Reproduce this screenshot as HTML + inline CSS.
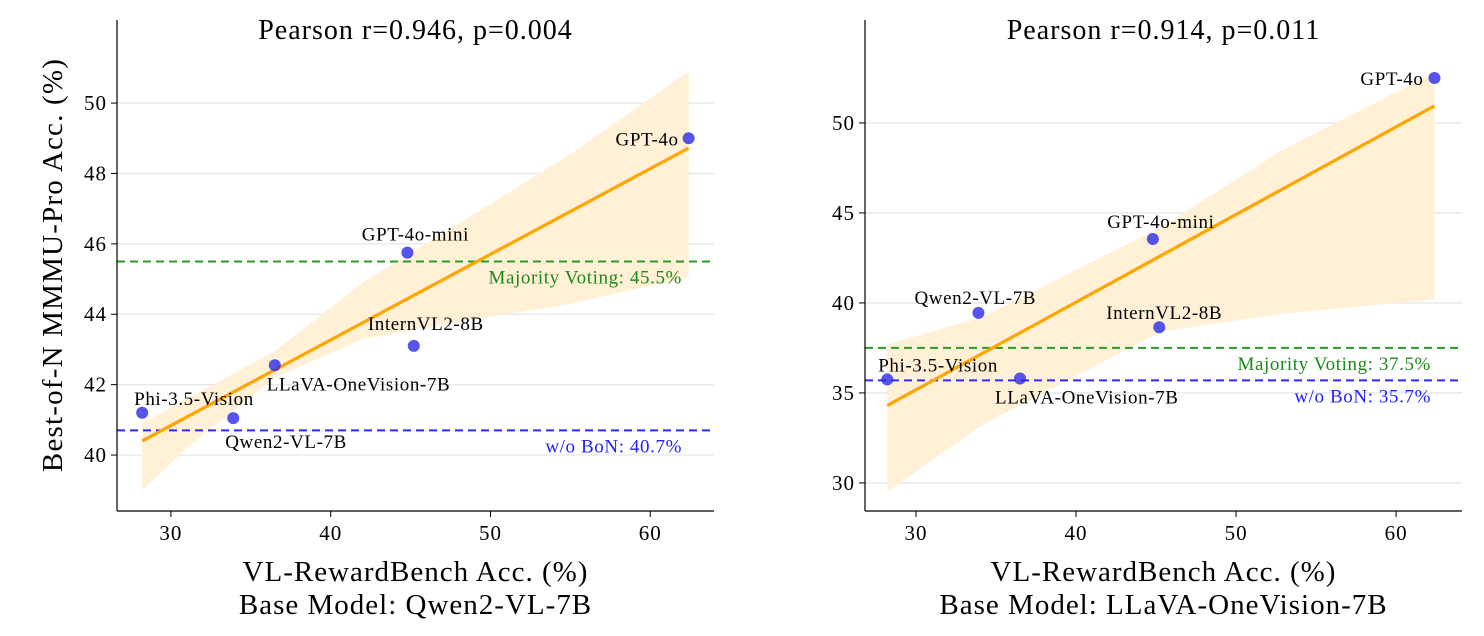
<!DOCTYPE html>
<html><head><meta charset="utf-8"><style>
body{margin:0;background:#fff}
svg{display:block;font-family:"Liberation Serif",serif}
</style></head><body>
<svg id="c" width="1484" height="636"></svg>
<script>
const models=["Phi-3.5-Vision","Qwen2-VL-7B","LLaVA-OneVision-7B","InternVL2-8B","GPT-4o-mini","GPT-4o"];
const xVals=[28.2,33.9,36.5,45.2,44.8,62.4];
const yLeft=[41.2,41.05,42.55,43.1,45.75,49.0];
const yRight=[35.75,39.45,35.8,38.65,43.55,52.5];
const lineLeft=[[28.2,40.4],[62.4,48.72]];
const lineRight=[[28.2,34.3],[62.4,50.95]];
const bandXLeft=[28.2,31,36.5,42,48.3,55,62.4];
const bandUpLeft=[40.9,41.6,42.95,44.9,46.65,48.55,50.9];
const bandLoLeft=[39.0,40.2,42.2,43.3,43.8,44.3,45.05];
const bandXRight=[28.2,34.1,45.3,52.9,62.4];
const bandUpRight=[37.7,39.2,44.2,48.5,52.8];
const bandLoRight=[29.5,33.2,38.4,39.4,40.2];
const xTicks=[30,40,50,60];
const yTicksLeft=[40,42,44,46,48,50];
const yTicksRight=[30,35,40,45,50];
const majLeft=45.5, baseLeft=40.7, majRight=37.5, baseRight=35.7;

const svg=document.getElementById('c');
const NS='http://www.w3.org/2000/svg';
function mk(t,a,p){const e=document.createElementNS(NS,t);for(const k in a)e.setAttribute(k,a[k]);(p||svg).appendChild(e);return e;}

const offL=[[-8,-8,'start'],[-8,30,'start'],[-8,25,'start'],[12,-16,'middle'],[8,-12,'middle'],[-10,7,'end']];
const offR=[[-9,-8,'start'],[-64,-9,'start'],[-25,25,'start'],[-53,-8,'start'],[8,-11,'middle'],[-11,7,'end']];

function panel(o){
  const X=v=>o.x0+(v-o.xmin)/(o.xmax-o.xmin)*(o.x1-o.x0);
  const Y=v=>o.yb-(v-o.ymin)/(o.ymax-o.ymin)*(o.yb-o.yt);
  const g=mk('g',{});
  
  
  o.yticks.forEach(t=>{
    const l=mk('line',{x1:o.x0,x2:o.x1,y1:Y(t),y2:Y(t),stroke:'#e6e6e6','stroke-width':1.3},g);
    
    mk('line',{x1:o.x0-6,x2:o.x0,y1:Y(t),y2:Y(t),stroke:'#000','stroke-width':1},g);
    const tx=mk('text',{x:o.x0-10,y:Y(t)+7,'text-anchor':'end','font-size':21,'letter-spacing':1},g);tx.textContent=t;
    
  });
  xTicks.forEach(t=>{
    mk('line',{x1:X(t),x2:X(t),y1:o.yb,y2:o.yb+6,stroke:'#000','stroke-width':1},g);
    const tx=mk('text',{x:X(t),y:o.yb+29,'text-anchor':'middle','font-size':21,'letter-spacing':1},g);tx.textContent=t;
    
  });
  let d='';
  o.bx.forEach((x,i)=>{d+=(i?'L':'M')+X(x)+','+Y(o.bu[i]);});
  for(let i=o.bx.length-1;i>=0;i--)d+='L'+X(o.bx[i])+','+Y(o.bl[i]);
  const band=mk('path',{d:d+'Z',fill:'#fff0d6'},g);
  
  const h1=mk('line',{x1:o.x0,x2:o.x1,y1:Y(o.maj),y2:Y(o.maj),stroke:'#2a9a2a','stroke-width':2,'stroke-dasharray':'8,5'},g);
  
  const h2=mk('line',{x1:o.x0,x2:o.x1,y1:Y(o.base),y2:Y(o.base),stroke:'#2a2aff','stroke-width':2,'stroke-dasharray':'8,5'},g);
  
  const t1=mk('text',{x:o.labR,y:Y(o.maj)+22,'text-anchor':'end','font-size':19,'letter-spacing':0.6,fill:'#1a8a1a'},g);
  t1.textContent='Majority Voting: '+o.maj+'%';
  
  const t2=mk('text',{x:o.labR,y:Y(o.base)+22,'text-anchor':'end','font-size':19,'letter-spacing':0.6,fill:'#2020ff'},g);
  t2.textContent='w/o BoN: '+o.base+'%';
  
  const rl=mk('line',{x1:X(o.line[0][0]),y1:Y(o.line[0][1]),x2:X(o.line[1][0]),y2:Y(o.line[1][1]),stroke:'#ffa500','stroke-width':3.2},g);
  
  models.forEach((m,i)=>{
    const c=mk('circle',{cx:X(xVals[i]),cy:Y(o.ys[i]),r:6,fill:'#2a2ae8','fill-opacity':0.8},g);
    
    const f=o.off[i];
    const t=mk('text',{x:X(xVals[i])+f[0],y:Y(o.ys[i])+f[1],'text-anchor':f[2],'font-size':19,'letter-spacing':0.6},g);
    t.textContent=m;
    
  });
  mk('line',{x1:o.x0,x2:o.x0,y1:o.yt,y2:o.yb,stroke:'#000','stroke-width':1.2},g);
  mk('line',{x1:o.x0,x2:o.x1,y1:o.yb,y2:o.yb,stroke:'#000','stroke-width':1.2},g);
  const ti=mk('text',{x:(o.x0+o.x1)/2,y:39,'text-anchor':'middle','font-size':28,'letter-spacing':1},g);ti.textContent=o.title;
  
  const xl=mk('text',{x:(o.x0+o.x1)/2,y:581,'text-anchor':'middle','font-size':29,'letter-spacing':1},g);xl.textContent='VL-RewardBench Acc. (%)';
  
  const xl2=mk('text',{x:(o.x0+o.x1)/2,y:614,'text-anchor':'middle','font-size':29,'letter-spacing':1},g);xl2.textContent=o.sub;
  
}
panel({name:'left-panel',x0:117,x1:714,xmin:26.625,xmax:63.99,yt:20,yb:511,ymin:38.41,ymax:52.36,
  yticks:yTicksLeft,bx:bandXLeft,bu:bandUpLeft,bl:bandLoLeft,maj:majLeft,base:baseLeft,labR:682,
  line:lineLeft,ys:yLeft,off:offL,title:'Pearson r=0.946, p=0.004',sub:'Base Model: Qwen2-VL-7B'});
panel({name:'right-panel',x0:865,x1:1462,xmin:26.81,xmax:64.12,yt:20,yb:511,ymin:28.44,ymax:55.72,
  yticks:yTicksRight,bx:bandXRight,bu:bandUpRight,bl:bandLoRight,maj:majRight,base:baseRight,labR:1431,
  line:lineRight,ys:yRight,off:offR,title:'Pearson r=0.914, p=0.011',sub:'Base Model: LLaVA-OneVision-7B'});
const yl=mk('text',{x:0,y:0,'text-anchor':'middle','font-size':29,'letter-spacing':1.2,transform:'translate(62,265) rotate(-90)'});
yl.textContent='Best-of-N MMMU-Pro Acc. (%)';


</script>
</body></html>
